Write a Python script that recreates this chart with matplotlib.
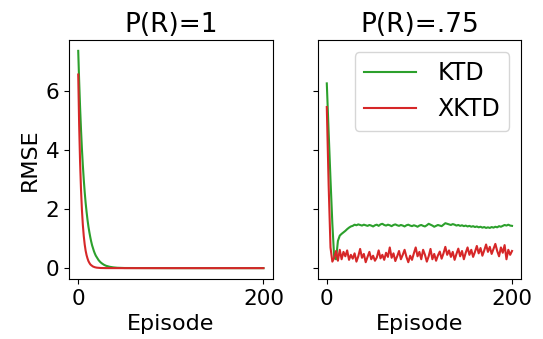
import matplotlib
matplotlib.use("Agg")
import matplotlib.pyplot as plt

# P(R)=1 panel: smooth decay, read at irregular episodes
ep_left_ktd = [0, 1, 2, 3, 4, 5, 6, 7, 8, 9, 10, 11, 12, 13, 14, 15, 16, 17, 18, 19,
               20, 22, 24, 26, 28, 30, 34, 38, 42, 50, 100, 150, 200]
ktd_left = [7.35, 6.33, 5.45, 4.69, 4.03, 3.47, 2.99, 2.57, 2.21, 1.91, 1.64, 1.41,
            1.22, 1.05, 0.90, 0.77, 0.67, 0.57, 0.49, 0.42, 0.37, 0.27, 0.20, 0.15,
            0.11, 0.08, 0.045, 0.025, 0.013, 0.004, 0.0, 0.0, 0.0]
ep_left_xktd = [0, 1, 2, 3, 4, 5, 6, 7, 8, 9, 10, 11, 12, 13, 14, 16, 18, 20, 24, 30,
                50, 100, 150, 200]
xktd_left = [6.55, 4.85, 3.59, 2.66, 1.97, 1.46, 1.08, 0.80, 0.59, 0.44, 0.33, 0.24,
             0.18, 0.13, 0.10, 0.054, 0.030, 0.016, 0.005, 0.001, 0.0, 0.0, 0.0, 0.0]

# P(R)=.75 panel: every 2nd episode
ep_right = list(range(0, 201, 2))
ktd_right = [6.25, 4.60, 3.00, 1.50, 0.35, 0.30, 0.92, 1.10, 1.16, 1.21,
             1.26, 1.32, 1.37, 1.41, 1.43, 1.47, 1.45, 1.48, 1.46, 1.44,
             1.47, 1.45, 1.43, 1.46, 1.44, 1.41, 1.45, 1.47, 1.43, 1.48,
             1.50, 1.46, 1.44, 1.47, 1.45, 1.42, 1.46, 1.48, 1.45, 1.43,
             1.46, 1.44, 1.41, 1.45, 1.47, 1.44, 1.42, 1.45, 1.43, 1.40,
             1.44, 1.46, 1.43, 1.41, 1.45, 1.50, 1.47, 1.44, 1.40, 1.43,
             1.46, 1.44, 1.42, 1.47, 1.52, 1.50, 1.48, 1.46, 1.49, 1.47,
             1.44, 1.46, 1.43, 1.45, 1.42, 1.44, 1.41, 1.43, 1.40, 1.42,
             1.39, 1.41, 1.38, 1.40, 1.37, 1.39, 1.36, 1.38, 1.36, 1.39,
             1.37, 1.40, 1.38, 1.42, 1.40, 1.43, 1.46, 1.44, 1.47, 1.44,
             1.43]
xktd_right = [5.45, 2.80, 0.70, 0.22, 0.35, 0.58, 0.25, 0.62, 0.30, 0.55,
              0.40, 0.60, 0.28, 0.45, 0.32, 0.50, 0.22, 0.40, 0.65, 0.35,
              0.48, 0.20, 0.38, 0.55, 0.30, 0.42, 0.25, 0.36, 0.60, 0.33,
              0.45, 0.28, 0.52, 0.38, 0.70, 0.35, 0.50, 0.24, 0.40, 0.58,
              0.30, 0.45, 0.62, 0.38, 0.20, 0.42, 0.28, 0.50, 0.70, 0.40,
              0.55, 0.30, 0.62, 0.45, 0.22, 0.40, 0.65, 0.30, 0.48, 0.25,
              0.43, 0.56, 0.32, 0.50, 0.72, 0.45, 0.60, 0.38, 0.55, 0.28,
              0.48, 0.66, 0.40, 0.58, 0.30, 0.52, 0.70, 0.45, 0.62, 0.38,
              0.55, 0.75, 0.50, 0.68, 0.42, 0.60, 0.80, 0.55, 0.72, 0.48,
              0.65, 0.82, 0.58, 0.40, 0.70, 0.52, 0.78, 0.30, 0.62, 0.45,
              0.58]

titles = ["P(R)=1", "P(R)=.75"]

fig, (ax1, ax2) = plt.subplots(1, 2, sharey=True, figsize=(5.43, 3.39), dpi=100)
fig.subplots_adjust(left=0.127, right=0.96, bottom=0.177, top=0.882, wspace=0.22)

ax1.plot(ep_left_ktd, ktd_left, color="tab:green", lw=1.5, label="KTD")
ax1.plot(ep_left_xktd, xktd_left, color="tab:red", lw=1.5, label="XKTD")
ax2.plot(ep_right, ktd_right, color="tab:green", lw=1.5, label="KTD")
ax2.plot(ep_right, xktd_right, color="tab:red", lw=1.5, label="XKTD")

for ax, t in zip((ax1, ax2), titles):
    ax.set_title(t, fontsize=19)
    ax.set_xlabel("Episode", fontsize=16)
    ax.set_xticks([0, 200])
    ax.set_yticks([0, 2, 4, 6])
    ax.tick_params(labelsize=15.5)

ax1.set_ylabel("RMSE", fontsize=16)
ax2.legend(loc="upper right", fontsize=17, handlelength=2.2, handletextpad=0.9)

fig.savefig("out.png", dpi=100)
